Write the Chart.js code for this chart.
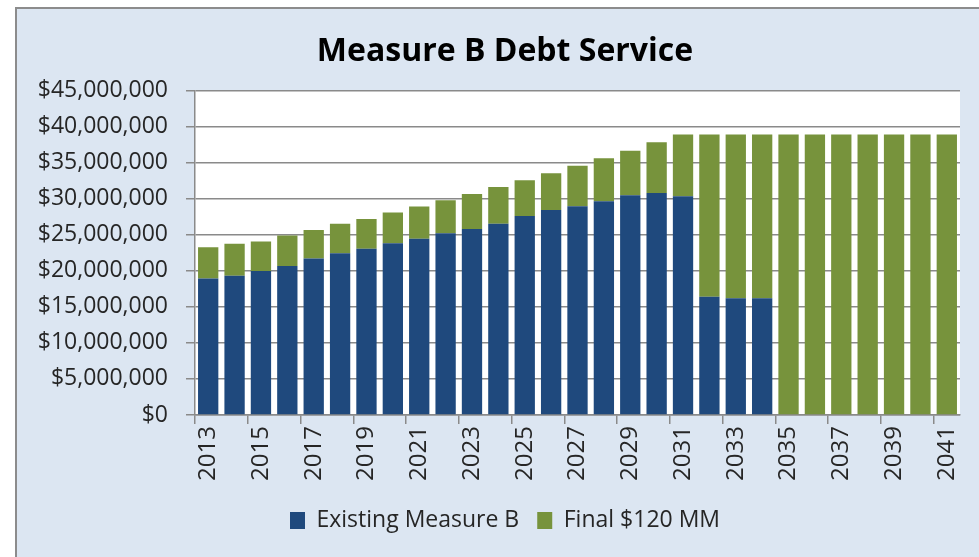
<!DOCTYPE html>
<html>
<head>
<meta charset="utf-8">
<script src="https://cdn.jsdelivr.net/npm/chart.js@4"></script>
<style>
  html, body { margin: 0; padding: 0; background: #ffffff; }
  #wrap {
    position: absolute; left: 15px; top: 7px;
    width: 962px; height: 548px;
    background: #dce6f2;
    border-left: 2px solid #8c8c8c;
    border-top: 2px solid #8c8c8c;
  }
</style>
</head>
<body>
<div id="wrap"><canvas id="debtChart"></canvas></div>
<script>
// years on the x axis
const years = ["2013", "2014", "2015", "2016", "2017", "2018", "2019", "2020", "2021", "2022",
  "2023", "2024", "2025", "2026", "2027", "2028", "2029", "2030", "2031", "2032",
  "2033", "2034", "2035", "2036", "2037", "2038", "2039", "2040", "2041"];

// Existing Measure B debt service ($)
const existingMeasureB = [18940000, 19310000, 19950000, 20650000, 21710000, 22410000, 23060000, 23800000, 24440000, 25190000,
  25790000, 26530000, 27590000, 28430000, 28940000, 29630000, 30460000, 30790000, 30320000, 16390000,
  16200000, 16200000, 0, 0, 0, 0, 0, 0, 0];

// Final $120 MM debt service ($)
const final120MM = [4300000, 4440000, 4120000, 4250000, 3940000, 4120000, 4120000, 4260000, 4450000, 4580000,
  4860000, 5090000, 4960000, 5090000, 5600000, 5970000, 6160000, 7030000, 8570000, 22500000,
  22690000, 22690000, 38890000, 38890000, 38890000, 38890000, 38890000, 38890000, 38890000];

const yMax = 45000000;
const yStep = 5000000;

const gridGray = "#8a8a8a";
const textColor = "#262626";
const fontFamily = "'Open Sans', 'Noto Sans', sans-serif";

// white plot area behind the bars
const plotBackground = {
  id: "plotBackground",
  beforeDraw(chart) {
    const { ctx, chartArea } = chart;
    ctx.save();
    ctx.fillStyle = "#ffffff";
    ctx.fillRect(chartArea.left, chartArea.top, chartArea.right - chartArea.left, chartArea.bottom - chartArea.top);
    ctx.restore();
  }
};

new Chart(document.getElementById("debtChart"), {
  type: "bar",
  data: {
    labels: years,
    datasets: [
      {
        label: "Existing Measure B",
        data: existingMeasureB,
        backgroundColor: "#1f497d",
        barPercentage: 0.77,
        categoryPercentage: 1.0
      },
      {
        label: "Final $120 MM",
        data: final120MM,
        backgroundColor: "#77933c",
        barPercentage: 0.77,
        categoryPercentage: 1.0
      }
    ]
  },
  options: {
    responsive: true,
    maintainAspectRatio: false,
    animation: false,
    layout: { padding: { left: 14, right: 0, top: 0, bottom: 15 } },
    scales: {
      x: {
        stacked: true,
        grid: {
          drawOnChartArea: false,
          tickLength: 9,
          tickColor: (ctx) => (ctx.index % 2 === 0 ? gridGray : "rgba(0,0,0,0)"),
          lineWidth: 1.5
        },
        border: { color: gridGray, width: 1.5 },
        ticks: {
          autoSkip: false,
          minRotation: 90,
          maxRotation: 90,
          padding: 2,
          color: textColor,
          font: { family: fontFamily, size: 24 },
          callback: function (value, index) {
            return index % 2 === 0 ? this.getLabelForValue(value) : "";
          }
        },
        afterFit: (scale) => { scale.height = 76; }
      },
      y: {
        stacked: true,
        min: 0,
        max: yMax,
        grid: { color: gridGray, lineWidth: 1.5, tickLength: 9 },
        border: { color: gridGray, width: 1.5 },
        ticks: {
          stepSize: yStep,
          padding: 18,
          color: textColor,
          font: { family: fontFamily, size: 23 },
          callback: (value) => "$" + value.toLocaleString("en-US")
        },
        afterFit: (scale) => { scale.width = 164; }
      },
      // empty right-hand strip so the plot stops short of the frame
      yRight: {
        position: "right",
        grid: { display: false },
        border: { display: false },
        ticks: { display: false },
        afterFit: (scale) => { scale.width = 19; }
      }
    },
    plugins: {
      title: {
        display: true,
        text: "Measure B Debt Service",
        color: "#000000",
        font: { family: fontFamily, size: 32, weight: "bold", lineHeight: 1.2 },
        padding: { top: 24, bottom: 19 }
      },
      legend: {
        position: "bottom",
        labels: {
          boxWidth: 15,
          boxHeight: 17,
          padding: 18,
          color: textColor,
          font: { family: fontFamily, size: 23 }
        }
      },
      tooltip: { enabled: false }
    }
  },
  plugins: [plotBackground]
});
</script>
</body>
</html>
